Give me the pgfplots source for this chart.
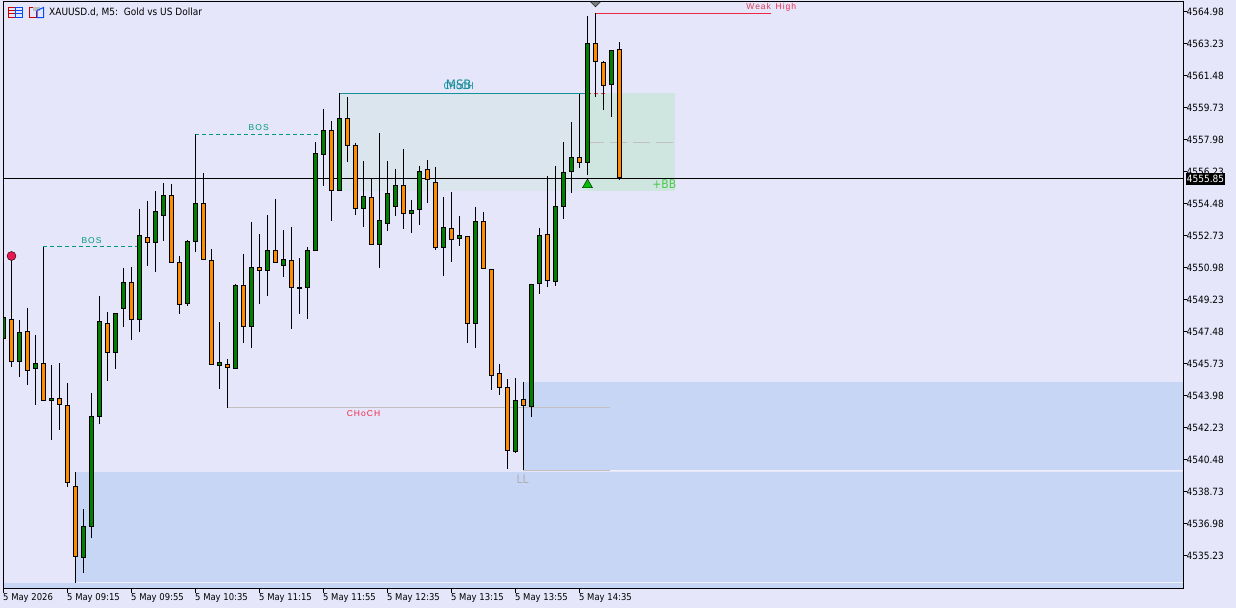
\documentclass[border=0pt]{standalone}
\usepackage{fontspec}
\usepackage{pgfplots}
\pgfplotsset{compat=1.18}
\setmainfont{DejaVu Sans Condensed}
\newfontfamily\lab[LetterSpace=12]{Liberation Sans}
\definecolor{bg}{HTML}{E6E6FA}
\definecolor{zone}{HTML}{C8D6F6}
\definecolor{boxa}{HTML}{DAE5EE}
\definecolor{boxb}{HTML}{CFE5E0}
\definecolor{teal1}{HTML}{14909A}
\definecolor{bos}{HTML}{009A78}
\definecolor{up}{HTML}{007F00}
\definecolor{dn}{HTML}{FF8C00}
\definecolor{grayline}{HTML}{C4C0C0}
\definecolor{redl}{HTML}{F02848}
\definecolor{dot}{HTML}{E8174F}

% one candle: colour, bar, open, high, low, close
\newcommand{\candle}[6]{%
  \pgfmathsetmacro{\xl}{#2-0.25}\pgfmathsetmacro{\xr}{#2+0.25}%
  \addplot[black,line width=1pt] coordinates {(#2,#4) (#2,#5)};
  \edef\body{\noexpand\addplot[draw=black,fill=#1,line width=1pt]
    coordinates {(\xl,#3) (\xr,#3) (\xr,#6) (\xl,#6)} --cycle;}\body
}
\newcommand{\up}{\candle{up}}
\newcommand{\dn}{\candle{dn}}
\newcommand{\rect}[5]{% colour, x0, x1, y0, y1
  \addplot[draw=none,fill=#1] coordinates {(#2,#4) (#3,#4) (#3,#5) (#2,#5)} --cycle;
}

\begin{document}
\begin{tikzpicture}
  \path[use as bounding box,fill=bg] (0pt,0pt) rectangle (1236pt,-608pt);
  \begin{axis}[
      at={(3.5pt,-588.5pt)}, anchor=south west,
      scale only axis, width=1180pt, height=587pt,
      xmin=0, xmax=147.5, ymin=4533.426, ymax=4565.527,
      axis line style={line width=1pt},
      every tick/.style={black,line width=1pt},
      tick align=outside, major tick length=4pt,
      xtick pos=bottom, ytick pos=right,
      yticklabel pos=right,
      xtick={0,8,16,24,32,40,48,56,64,72},
      xticklabels={5 May 2026,5 May 09:15,5 May 09:55,5 May 10:35,5 May 11:15,5 May 11:55,5 May 12:35,5 May 13:15,5 May 13:55,5 May 14:35},
      ytick={4535.23,4536.98,4538.73,4540.48,4542.23,4543.98,4545.73,4547.48,4549.23,4550.98,4552.73,4554.48,4556.23,4557.98,4559.73,4561.48,4563.23,4564.98},
      yticklabels={4535.23,4536.98,4538.73,4540.48,4542.23,4543.98,4545.73,4547.48,4549.23,4550.98,4552.73,4554.48,4556.23,4557.98,4559.73,4561.48,4563.23,4564.98},
      xticklabel style={anchor=north west,inner sep=0pt,xshift=-0.5pt,yshift=-0.5pt,font=\fontsize{9.4}{12}\selectfont},
      yticklabel style={anchor=west,inner sep=0pt,xshift=-1pt,font=\fontsize{10}{12}\selectfont},
  ]
    % zones
    \rect{zone}{9}{147.5}{4533.78}{4539.80}
    \rect{zone}{0}{147.5}{4533.43}{4533.73}
    \rect{zone}{65}{147.5}{4539.91}{4544.72}
    \rect{boxa}{42}{73}{4555.16}{4560.52}
    \rect{boxb}{73}{83.9}{4555.16}{4560.52}
    \addplot[color=bg!60!white,line width=1pt] coordinates {(9,4533.76) (147.5,4533.76)};
    \addplot[color=bg!60!white,line width=1pt] coordinates {(75.8,4539.89) (147.5,4539.89)};
    % structure lines
    \addplot[black,line width=1pt] coordinates {(0,4555.85) (147.5,4555.85)};
    \addplot[grayline,line width=1pt] coordinates {(28,4543.30) (75.8,4543.30)};
    \addplot[grayline,line width=1pt] coordinates {(65,4539.89) (75.8,4539.89)};
    \addplot[bos,line width=1pt,dash pattern=on 4pt off 3pt] coordinates {(5,4552.12) (17,4552.12)};
    \addplot[bos,line width=1pt,dash pattern=on 4pt off 3pt] coordinates {(24,4558.27) (40,4558.27)};
    \addplot[teal1,line width=1pt] coordinates {(42,4560.51) (73,4560.51)};
    \addplot[redl,line width=1pt,dash pattern=on 4pt off 3pt] coordinates {(73,4560.51) (75.6,4560.51)};
    \addplot[grayline,line width=1pt,dash pattern=on 17pt off 6pt] coordinates {(73,4557.84) (83.9,4557.84)};
    \addplot[redl,line width=1pt] coordinates {(74,4564.88) (95.9,4564.88)};
    % candles: bar, open, high, low, close
    \up{0}{4547.11}{4548.33}{4547.02}{4548.23}
    \dn{1}{4548.12}{4551.61}{4545.56}{4545.86}
    \up{2}{4545.86}{4548.11}{4545.01}{4547.41}
    \dn{3}{4547.46}{4548.75}{4544.56}{4545.36}
    \up{4}{4545.44}{4547.29}{4543.46}{4545.71}
    \dn{5}{4545.71}{4552.12}{4543.70}{4543.72}
    \up{6}{4543.72}{4545.65}{4541.55}{4543.80}
    \dn{7}{4543.80}{4545.74}{4542.09}{4543.50}
    \dn{8}{4543.42}{4544.65}{4538.99}{4539.21}
    \dn{9}{4538.99}{4539.78}{4533.74}{4535.16}
    \up{10}{4535.10}{4537.76}{4534.29}{4536.80}
    \up{11}{4536.83}{4544.10}{4536.20}{4542.82}
    \up{12}{4542.85}{4549.42}{4542.42}{4548.01}
    \dn{13}{4547.90}{4548.53}{4544.79}{4546.32}
    \up{14}{4546.32}{4548.48}{4545.45}{4548.45}
    \up{15}{4548.72}{4550.95}{4547.74}{4550.14}
    \dn{16}{4550.14}{4551.01}{4547.02}{4548.12}
    \up{17}{4548.12}{4554.18}{4547.47}{4552.71}
    \dn{18}{4552.61}{4554.62}{4551.06}{4552.33}
    \up{19}{4552.33}{4555.16}{4550.75}{4554.03}
    \up{20}{4553.84}{4555.59}{4552.45}{4554.90}
    \dn{21}{4554.90}{4555.55}{4551.21}{4551.24}
    \dn{22}{4551.24}{4551.61}{4548.45}{4548.94}
    \up{23}{4549.03}{4552.48}{4548.89}{4552.39}
    \up{24}{4552.42}{4558.27}{4551.84}{4554.46}
    \dn{25}{4554.46}{4556.13}{4551.37}{4551.40}
    \dn{26}{4551.35}{4551.99}{4545.63}{4545.66}
    \up{27}{4545.64}{4548.00}{4544.34}{4545.77}
    \dn{28}{4545.66}{4545.96}{4543.30}{4545.50}
    \up{29}{4545.47}{4550.08}{4545.41}{4549.98}
    \dn{30}{4549.98}{4551.72}{4546.87}{4547.77}
    \up{31}{4547.77}{4553.47}{4546.58}{4550.96}
    \dn{32}{4550.96}{4552.81}{4548.98}{4550.83}
    \up{33}{4550.83}{4553.84}{4549.42}{4551.89}
    \dn{34}{4551.89}{4554.73}{4551.24}{4551.27}
    \up{35}{4551.11}{4553.03}{4550.48}{4551.40}
    \dn{36}{4551.35}{4553.20}{4547.62}{4549.90}
    \up{37}{4549.84}{4551.50}{4548.44}{4549.88}
    \up{38}{4549.90}{4552.10}{4548.16}{4551.89}
    \up{39}{4551.93}{4557.83}{4551.90}{4557.20}
    \up{40}{4557.14}{4559.65}{4555.44}{4558.46}
    \dn{41}{4558.46}{4558.99}{4553.54}{4555.17}
    \up{42}{4555.17}{4560.51}{4555.15}{4559.11}
    \dn{43}{4559.11}{4560.29}{4556.77}{4557.67}
    \dn{44}{4557.64}{4557.81}{4553.87}{4554.19}
    \up{45}{4554.22}{4556.79}{4553.21}{4554.85}
    \dn{46}{4554.79}{4555.84}{4552.20}{4552.22}
    \up{47}{4552.22}{4558.32}{4550.97}{4553.53}
    \up{48}{4553.40}{4556.79}{4552.99}{4555.01}
    \up{49}{4554.33}{4556.37}{4553.81}{4555.45}
    \dn{50}{4555.45}{4557.44}{4553.10}{4553.92}
    \up{51}{4553.92}{4554.66}{4552.88}{4554.08}
    \up{52}{4554.14}{4556.53}{4553.32}{4556.21}
    \dn{53}{4556.32}{4556.86}{4554.52}{4555.78}
    \dn{54}{4555.61}{4556.46}{4551.95}{4552.06}
    \up{55}{4552.09}{4554.84}{4550.53}{4553.15}
    \dn{56}{4553.10}{4555.11}{4551.30}{4552.49}
    \up{57}{4552.58}{4553.80}{4552.17}{4552.71}
    \dn{58}{4552.66}{4552.69}{4546.87}{4547.90}
    \up{59}{4547.90}{4554.29}{4546.59}{4553.48}
    \dn{60}{4553.48}{4554.00}{4550.88}{4550.91}
    \dn{61}{4550.85}{4550.88}{4544.30}{4545.09}
    \dn{62}{4545.17}{4545.70}{4544.01}{4544.43}
    \dn{63}{4544.40}{4544.88}{4539.96}{4540.99}
    \up{64}{4540.93}{4544.94}{4540.85}{4543.69}
    \dn{65}{4543.75}{4544.72}{4539.91}{4543.42}
    \up{66}{4543.40}{4550.06}{4542.82}{4550.03}
    \up{67}{4550.09}{4553.14}{4549.55}{4552.71}
    \dn{68}{4552.77}{4555.98}{4549.93}{4550.25}
    \up{69}{4550.23}{4556.53}{4549.98}{4554.30}
    \up{70}{4554.33}{4557.83}{4553.65}{4556.16}
    \up{71}{4556.25}{4558.92}{4555.07}{4556.98}
    \dn{72}{4556.98}{4560.47}{4556.44}{4556.71}
    \up{73}{4556.71}{4564.73}{4556.06}{4563.21}
    \dn{74}{4563.21}{4564.88}{4560.30}{4562.23}
    \dn{75}{4562.17}{4562.27}{4559.59}{4560.95}
    \up{76}{4561.00}{4562.86}{4559.23}{4562.83}
    \dn{77}{4562.89}{4563.31}{4555.77}{4555.89}
    % markers
    \addplot[only marks,mark=*,mark size=4.5pt,mark options={draw=none,fill=dot}] coordinates {(1,4551.61)};
    \addplot[only marks,mark=triangle*,mark size=5.8pt,mark options={draw=none,fill=green!75!black}] coordinates {(73,4555.50)};
    \addplot[only marks,mark=triangle*,mark size=5.8pt,mark options={draw=none,fill=gray,rotate=180,yscale=0.58}] coordinates {(74,4565.42)};
    % labels
    \node[bos,font=\lab\fontsize{8.5}{10}\selectfont] at (axis cs:11,4552.48) {BOS};
    \node[bos,font=\lab\fontsize{8.5}{10}\selectfont] at (axis cs:31.9,4558.61) {BOS};
    \node[redl,font=\lab\fontsize{8.5}{10}\selectfont] at (axis cs:45,4542.99) {CHoCH};
    \node[gray!55!bg,font=\fontsize{12}{14}\selectfont] at (axis cs:64.9,4539.41) {LL};
    \node[teal1,font=\fontsize{13}{15}\selectfont] at (axis cs:56.9,4560.95) {MSB};
    \node[teal1,font=\fontsize{9.5}{11}\selectfont] at (axis cs:56.9,4560.88) {CHoCH};
    \node[green!70!black!70!white,font=\fontsize{12}{14}\selectfont] at (axis cs:82.6,4555.55) {+BB};
    \node[redl!75!gray,font=\lab\fontsize{8.5}{10}\selectfont] at (axis cs:94.4,4565.23) {Weak};
    \node[redl,font=\lab\fontsize{8.5}{10}\selectfont] at (axis cs:97.8,4565.23) {High};
  \end{axis}
  % current price box
  \fill[black] (1186pt,-173pt) rectangle (1225pt,-184.5pt);
  \node[white,font=\fontsize{10}{12}\selectfont,inner sep=0pt] at (1205.5pt,-178.7pt) {4555.85};
  % title and toolbar icons
  \node[anchor=west,inner sep=0pt,font=\fontsize{10}{12}\selectfont] at (49pt,-12.5pt) {XAUUSD.d, M5:\ \ Gold vs US Dollar};
  \draw[red!80!black,line width=1pt] (8.5pt,-7.5pt) rectangle (15.5pt,-17.5pt);
  \draw[red!80!black,line width=1pt] (9pt,-10.5pt) -- (15pt,-10.5pt) (9pt,-13.5pt) -- (15pt,-13.5pt);
  \draw[blue!70!cyan,line width=1pt] (15.5pt,-7.5pt) rectangle (22.5pt,-17.5pt);
  \draw[blue!70!cyan,line width=1pt] (16pt,-10.5pt) -- (22pt,-10.5pt) (16pt,-13.5pt) -- (22pt,-13.5pt);
  \draw[red!80!black,line width=1pt] (29.5pt,-7.5pt) rectangle (36pt,-17.5pt);
  \fill[gray!50] (33pt,-6.5pt) rectangle (40pt,-10.5pt);
  \draw[blue!70!cyan,line width=1pt] (37pt,-10.5pt) -- (43.5pt,-7.5pt) -- (43.5pt,-17.5pt) -- (37pt,-17.5pt) -- cycle;
\end{tikzpicture}
\end{document}
